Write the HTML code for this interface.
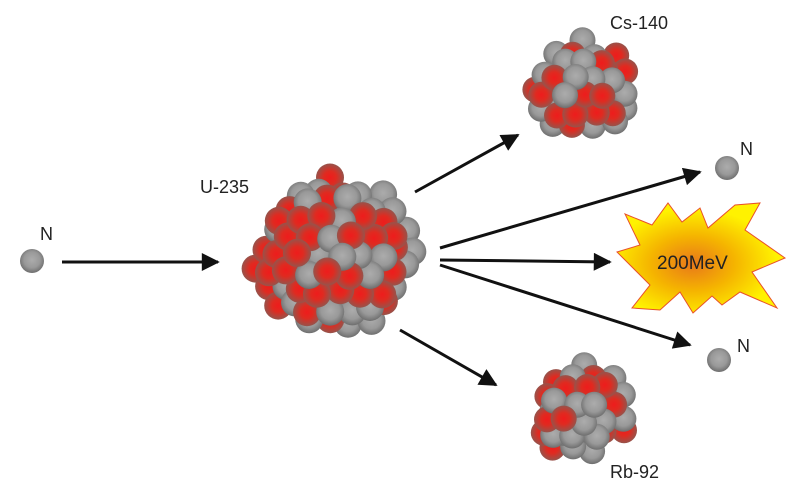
<!DOCTYPE html>
<html><head><meta charset="utf-8"><style>
html,body{margin:0;padding:0;background:#fff;width:800px;height:494px;overflow:hidden}
text{font-family:"Liberation Sans",sans-serif;fill:#222}
</style></head><body>
<svg id="s" width="800" height="494" viewBox="0 0 800 494" xmlns="http://www.w3.org/2000/svg">
<defs>
<radialGradient id="g" cx="50%" cy="45%" r="55%"><stop offset="0" stop-color="#acacac"/><stop offset="0.6" stop-color="#999"/><stop offset="1" stop-color="#6e6e6e"/></radialGradient>
<radialGradient id="r" cx="50%" cy="50%" r="55%"><stop offset="0" stop-color="#ee1c1c"/><stop offset="0.4" stop-color="#e02a20"/><stop offset="1" stop-color="#8a5a52"/></radialGradient>
<radialGradient id="b" cx="45%" cy="55%" r="50%"><stop offset="0" stop-color="#e8781a"/><stop offset="0.5" stop-color="#f5b400"/><stop offset="1" stop-color="#fff200"/></radialGradient>
<marker id="a" viewBox="0 0 10 10" refX="9" refY="5" markerWidth="7" markerHeight="6" orient="auto" markerUnits="strokeWidth"><path d="M0,0 L10,5 L0,10 z" fill="#111"/></marker>
</defs>
<g stroke="#111" stroke-width="3" marker-end="url(#a)">
<line x1="62" y1="262" x2="218" y2="262"/>
<line x1="415" y1="192" x2="518" y2="135"/>
<line x1="440" y1="248" x2="700" y2="172"/>
<line x1="440" y1="260" x2="610" y2="262"/>
<line x1="440" y1="265" x2="690" y2="345"/>
<line x1="400" y1="330" x2="496" y2="385"/>
</g>
<polygon fill="url(#b)" stroke="#e8502a" stroke-width="1" points="625,214 652,225 668,203 682,222 700,208 708,228 735,205 760,203 745,230 785,258 752,272 777,308 740,292 722,305 712,296 693,313 680,292 660,310 632,308 650,285 617,252 640,245"/>
<text x="657" y="269" font-size="19">200MeV</text>
<g id="balls"></g>
<text x="200" y="193" font-size="18">U-235</text>
<text x="610" y="29" font-size="18">Cs-140</text>
<text x="610" y="478" font-size="18">Rb-92</text>
<text x="40" y="240" font-size="18">N</text>
<text x="740" y="155" font-size="18">N</text>
<text x="737" y="352" font-size="18">N</text>
</svg>
<script>
var G=document.getElementById('balls'),seed=11;
function rnd(){seed=(seed*16807)%2147483647;return seed/2147483647;}
function ball(x,y,r,red){var c=document.createElementNS('http://www.w3.org/2000/svg','circle');c.setAttribute('cx',x.toFixed(1));c.setAttribute('cy',y.toFixed(1));c.setAttribute('r',r);c.setAttribute('fill',red?'url(#r)':'url(#g)');G.appendChild(c);}
function layer(pts,cx,cy,rx,ry,sp,ox,oy,lim,z){var row=0;
for(var y=-ry-sp+oy;y<=ry+sp;y+=sp*0.866){var off=(row++%2)?sp/2:0;
for(var x=-rx-sp+off+ox;x<=rx+sp;x+=sp){var px=x+(rnd()-0.5)*sp*0.3,py=y+(rnd()-0.5)*sp*0.3;
var d=(px*px)/(rx*rx)+(py*py)/(ry*ry);if(d<=lim)pts.push([cx+px,cy+py,rnd()<0.5,z-d+rnd()*0.3]);}}}
function cluster(cx,cy,rx,ry,sp,br){var pts=[];
layer(pts,cx,cy,rx,ry,sp,0,0,1.05,0);
layer(pts,cx,cy,rx,ry,sp,sp/2,sp*0.3,0.75,1);
pts.sort(function(p,q){return p[3]-q[3];});pts.forEach(function(p){ball(p[0],p[1],br,p[2]);});}
cluster(334,256,78,77,21,14);
cluster(584,88,50,48,20,13);
cluster(583,411,48,46,20,13);
ball(32,261,12,false);ball(727,168,12,false);ball(719,360,12,false);
</script>
</body></html>
